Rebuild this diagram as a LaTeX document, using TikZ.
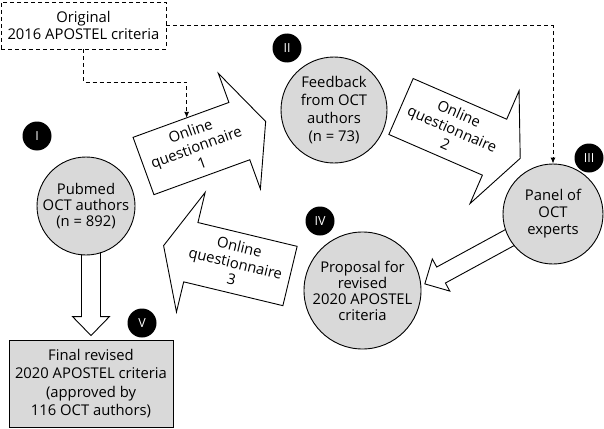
\documentclass[tikz,border=0pt]{standalone}
\usepackage{fontspec}
\setmainfont{Open Sans}
\usetikzlibrary{arrows.meta}

\tikzset{
	stage/.style={circle,draw,fill=black!15,align=center,inner sep=0pt},
	critbox/.style={rectangle,draw,align=center,inner sep=0pt},
	badge/.style={circle,fill=black,text=white,minimum size=29pt,inner sep=0pt,font=\fontsize{12.5}{14}\selectfont},
	qshape/.style={draw,fill=white,line join=miter},
	qtext/.style={align=center,inner sep=0pt},
	hollow/.style={draw,line join=miter},
	dashline/.style={dash pattern=on 4pt off 3pt,-{Latex[length=6pt,width=5pt]}},
}

% questionnaire arrow: tail middle, direction, text angle, name, text
\newcommand{\qarrow}[5]{%
	\begin{scope}[shift={#1},rotate=#2]
		\draw[qshape] (0,-30.5)--(102,-30.5)--(102,-61.5)--(130,0)--(102,61.5)--(102,30.5)--(0,30.5)--cycle;
		\node[qtext,rotate=#3] (#4) at (56,0) {#5};
		\coordinate (#4-top) at (57,-30.5);
	\end{scope}}

\begin{document}
\begin{tikzpicture}[x=1pt,y=-1pt,line width=0.9pt,font=\fontsize{14.8}{17}\selectfont]
	\useasboundingbox (0,0) rectangle (604,428);
	% stages
	\node[critbox,dash pattern=on 4pt off 3pt,minimum width=165pt,minimum height=47pt] (orig) at (83.5,25.5) {Original\\2016 APOSTEL criteria};
	\node[stage,minimum size=98pt,font=\fontsize{14.8}{16}\selectfont] (pubmed) at (86,206) {Pubmed\\OCT authors\\(n = 892)};
	\node[stage,minimum size=106pt,font=\fontsize{14.8}{18}\selectfont] (feedback) at (334,110) {Feedback\\from OCT\\authors\\(n = 73)};
	\node[stage,minimum size=100pt] (panel) at (553,214) {Panel of\\OCT\\experts};
	\node[stage,minimum size=117pt,font=\fontsize{14.8}{16}\selectfont] (proposal) at (362.5,290.5) {Proposal for\\revised\\2020 APOSTEL\\criteria};
	\node[critbox,fill=black!15,minimum width=164pt,minimum height=87pt,font=\fontsize{14.8}{18.5}\selectfont] (final) at (91,383.5) {Final revised\\2020 APOSTEL criteria\\(approved by\\116 OCT authors)};
	% numbers
	\node[badge] (b1) at (37,136) {I};
	\node[badge] (b2) at (287,48) {II};
	\node[badge] (b3) at (589,158) {III};
	\node[badge] (b4) at (320,221) {IV};
	\node[badge] (b5) at (142,323) {V};
	% questionnaires
	\qarrow{(143.5,166)}{20}{20}{q1}{Online\\questionnaire\\1}
	\qarrow{(401,106.5)}{-23.5}{-23.5}{q2}{Online\\questionnaire\\2}
	\qarrow{(290,276)}{166.5}{-13.5}{q3}{Online\\questionnaire\\3}
	% hollow arrows
	\begin{scope}[shift={(panel.center)},rotate=208.6]
		\draw[hollow] (49.2,-9.1)--(127.5,-9.1)--(127.5,-18.3)--(146,0)--(127.5,18.3)--(127.5,9.1)--(49.2,9.1);
	\end{scope}
	\begin{scope}[shift={(final.north)}]
		\draw[hollow] (-9.5,-85.2)--(-9.5,-23)--(-18.5,-23)--(0,-4)--(18.5,-23)--(9.5,-23)--(9.5,-87.4);
	\end{scope}
	% dashed links
	\draw[dashline] (orig.south)--++(0,33)-|(q1-top);
	\draw[dashline] (orig.east)-|(panel.north);
\end{tikzpicture}
\end{document}
